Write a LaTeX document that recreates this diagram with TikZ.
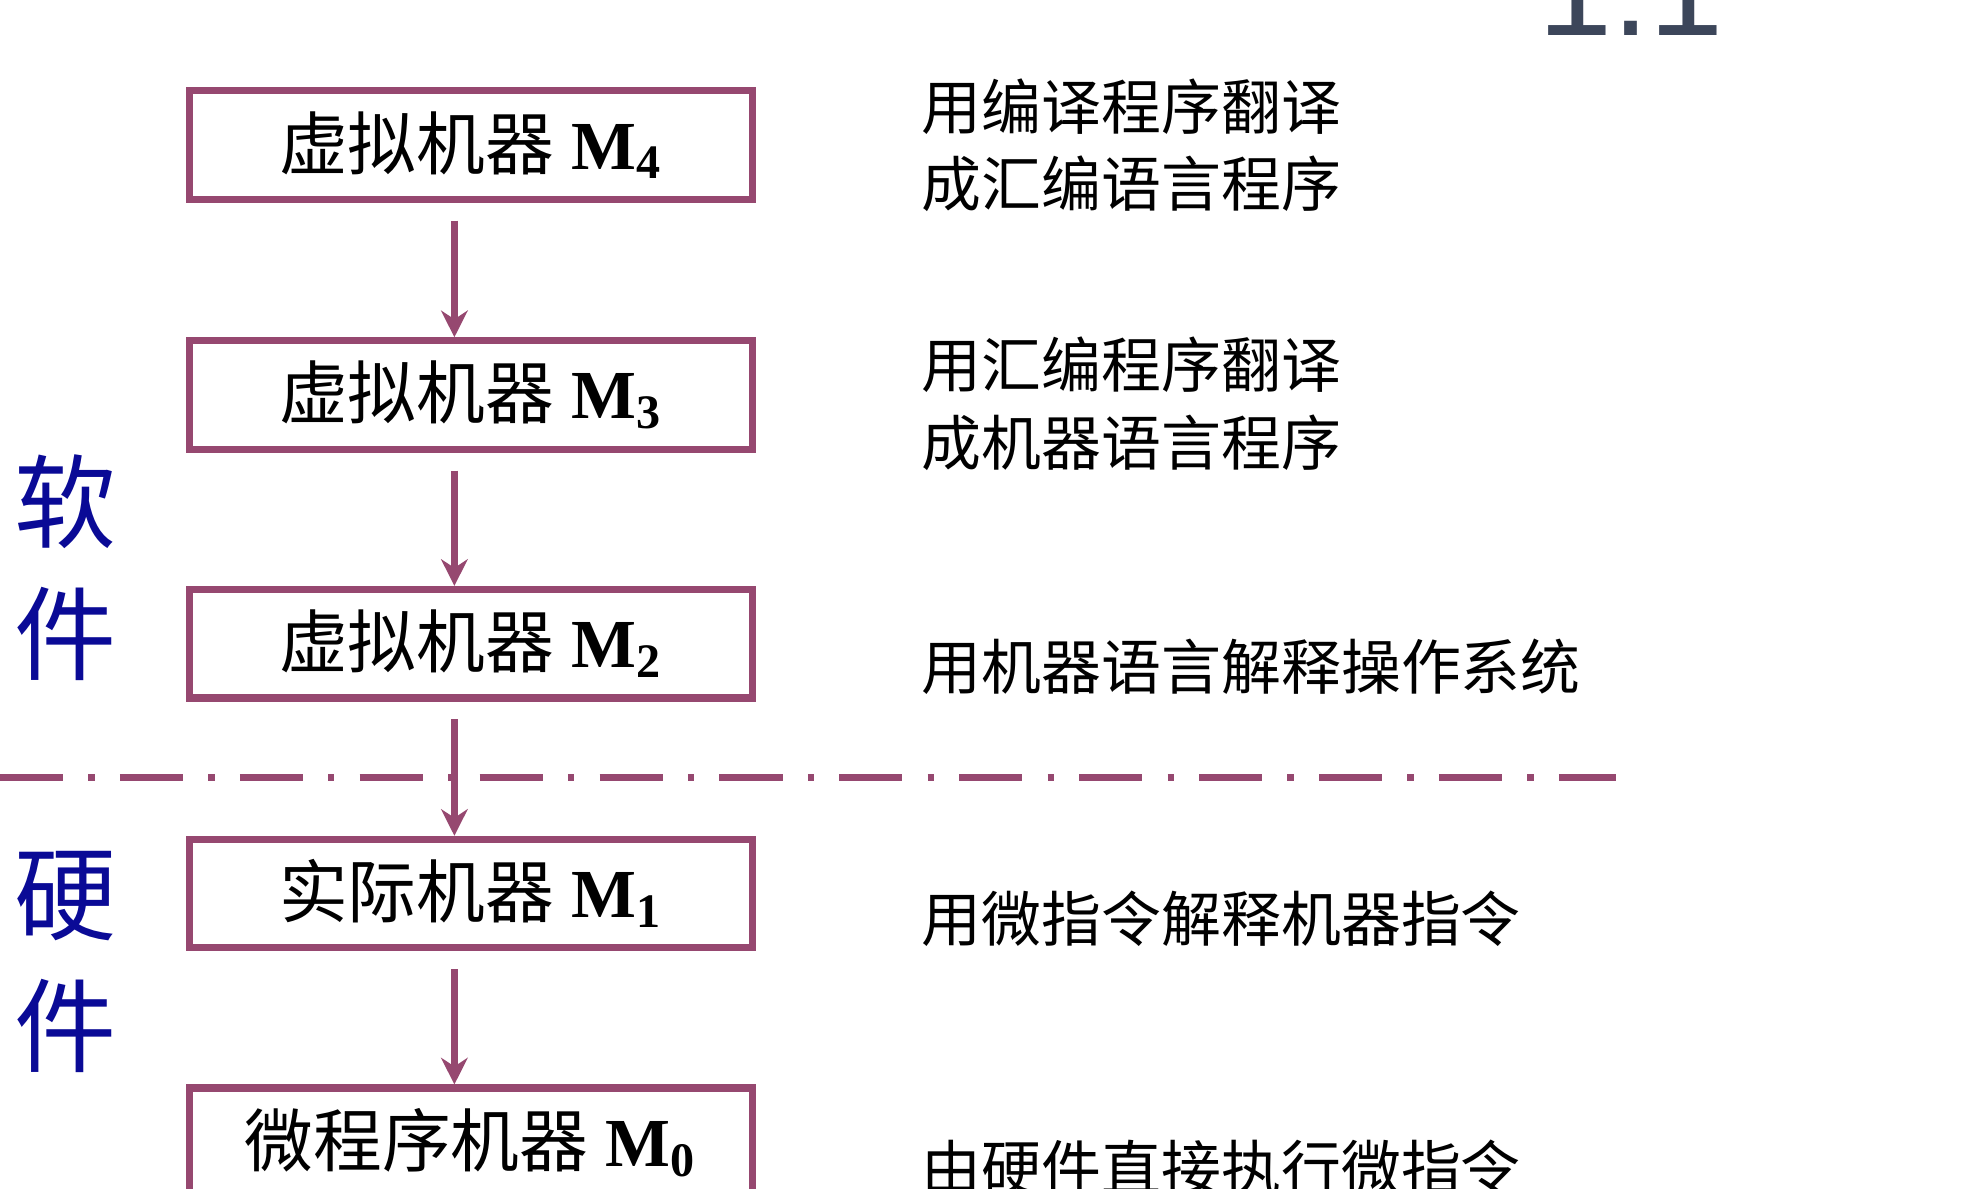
\documentclass[tikz,border=0pt]{standalone}
\usepackage{fontspec}
\setmainfont{Liberation Serif}
\newfontfamily\cjk{Noto Sans CJK SC}
\newfontfamily\hdfont{Liberation Sans}
\usetikzlibrary{positioning,arrows.meta}
\definecolor{boxpurple}{RGB}{150,72,112}
\definecolor{sideblue}{RGB}{10,10,150}
\definecolor{titlegray}{RGB}{60,70,90}
\newcommand*{\mach}[2]{{\cjk #1} \textbf{M\textsubscript{#2}}}

\begin{document}
\begin{tikzpicture}
\useasboundingbox (0,0) rectangle (15.6,9.42);
\tikzset{
  machbox/.style={draw=boxpurple,line width=1.6pt,minimum width=4.46cm,
    minimum height=0.86cm,inner sep=0pt,font=\fontsize{15.5}{18}\selectfont},
  flow/.style={draw=boxpurple,line width=1.4pt,-{Stealth[length=6pt,width=6pt]},
    shorten <=0.14cm},
  note/.style={anchor=west,align=left,font=\cjk\fontsize{13.5}{17.5}\selectfont},
  side/.style={text=sideblue,font=\cjk\fontsize{23}{27}\selectfont,align=center}
}
% Title fragment
\node[text=titlegray,font=\hdfont\fontsize{30}{30}\selectfont,anchor=center]
  (title) at (12.92,9.5) {1.1};
% Machine levels
\node[machbox] (m4) at (3.73,8.27) {\mach{虚拟机器}{4}};
\node[machbox] (m3) at (3.73,6.29) {\mach{虚拟机器}{3}};
\node[machbox] (m2) at (3.73,4.32) {\mach{虚拟机器}{2}};
\node[machbox] (m1) at (3.73,2.34) {\mach{实际机器}{1}};
\node[machbox] (m0) at (3.73,0.37) {\mach{微程序机器}{0}};
\foreach \a/\b in {m4/m3,m3/m2,m2/m1,m1/m0}
  \draw[flow] (\a.south -| 3.6,0) -- (\b.north -| 3.6,0);
% Software / hardware border
\coordinate (sepL) at (0,3.26);
\coordinate (sepR) at (12.8,3.26);
\draw[boxpurple,line width=1.6pt,dash pattern=on 0.5cm off 0.2cm on 0.05cm off 0.2cm] (sepL) -- (sepR);
\node[side] (soft) at (0.52,4.92) {软\\[0.1cm]件};
\node[side] (hard) at (0.52,1.8) {硬\\[0.1cm]件};
% Explanations
\node[note] (n4) at (7.18,8.27) {用编译程序翻译\\成汇编语言程序};
\node[note] (n3) at (7.18,6.22) {用汇编程序翻译\\成机器语言程序};
\node[note] (n2) at (7.18,4.14) {用机器语言解释操作系统};
\node[note] (n1) at (7.18,2.14) {用微指令解释机器指令};
\node[note] (n0) at (7.18,0.17) {由硬件直接执行微指令};
\end{tikzpicture}
\end{document}
